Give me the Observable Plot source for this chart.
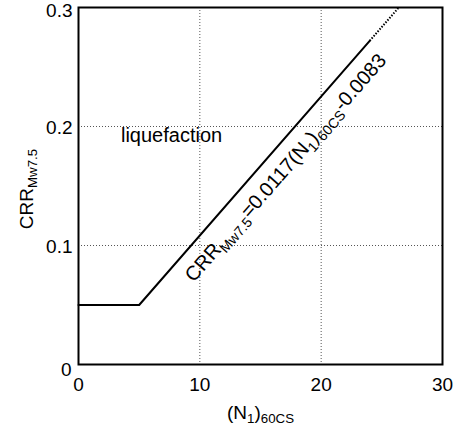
<!DOCTYPE html>
<html><head><meta charset="utf-8">
<script src="https://cdn.jsdelivr.net/npm/d3@7"></script>
<script src="https://cdn.jsdelivr.net/npm/@observablehq/plot@0.6"></script>
<style>
body{margin:0;background:#fff}
svg{font-family:"Liberation Sans",Arial,Helvetica,sans-serif}
</style>
</head><body><div id="chart"></div>
<script>
// ---- data ----
const xTicks = [0, 10, 20, 30];
const yTicks = [0.1, 0.2];
const yTopTick = [0.3];
const yZeroTick = [0];
const gridXValues = [10, 20];
const gridYValues = [0.1, 0.2];
const solidN = [0, 5, 24];
const solidCRR = [0.05, 0.05, 0.272];
const dottedN = [24, 26.4];
const dottedCRR = [0.272, 0.3];
const slope = 0.0117, intercept = -0.0083;
const eqN = [15.8];
const regionLabel = ["liquefaction"];
const regionN = [3.5];
const regionCRR = [0.187];

// ---- layout ----
const W = 457, H = 431, mL = 78, mR = 15, mT = 7, mB = 67;
const xDomain = [0, 30], yDomain = [0, 0.3];
const pxPerX = (W - mL - mR) / (xDomain[1] - xDomain[0]);
const pxPerY = (H - mT - mB) / (yDomain[1] - yDomain[0]);
const angle = -Math.atan(slope * pxPerY / pxPerX) * 180 / Math.PI;
const FONT = '"Liberation Sans",Arial,Helvetica,sans-serif';

const solid = solidN.map((n, i) => ({n, c: solidCRR[i]}));
const dotted = dottedN.map((n, i) => ({n, c: dottedCRR[i]}));

const plot = Plot.plot({
  width: W, height: H,
  marginLeft: mL, marginRight: mR, marginTop: mT, marginBottom: mB,
  style: {fontFamily: FONT, fontSize: "19px", background: "white", color: "black"},
  x: {domain: xDomain, label: null},
  y: {domain: yDomain, label: null},
  marks: [
    Plot.gridX(gridXValues, {stroke: "#555", strokeOpacity: 1, strokeWidth: 1, strokeDasharray: "1,2"}),
    Plot.gridY(gridYValues, {stroke: "#555", strokeOpacity: 1, strokeWidth: 1, strokeDasharray: "1,2"}),
    Plot.line(solid, {x: "n", y: "c", stroke: "black", strokeWidth: 2}),
    Plot.line(dotted, {x: "n", y: "c", stroke: "black", strokeWidth: 2, strokeDasharray: "1.5,1.5", strokeLinecap: "butt"}),
    Plot.frame({stroke: "black", strokeWidth: 2}),
    Plot.axisX({ticks: xTicks, tickSize: 0, tickPadding: 13, fontSize: 19, label: null}),
    Plot.axisY({ticks: yTicks, tickSize: 0, tickPadding: 6, fontSize: 19, label: null, dy: 1, tickFormat: d => d.toFixed(1)}),
    Plot.axisY({ticks: yTopTick, tickSize: 0, tickPadding: 6, fontSize: 19, label: null, dy: 3.5, tickFormat: d => d.toFixed(1)}),
    Plot.axisY({ticks: yZeroTick, tickSize: 0, tickPadding: 7, fontSize: 19, label: null, dy: 5, tickFormat: d => String(d)}),
    Plot.text(regionLabel, {x: regionN, y: regionCRR, text: d => d, textAnchor: "start", lineAnchor: "bottom", fontSize: 20}),
    Plot.text(["eq"], {x: eqN, y: eqN.map(n => slope * n + intercept), text: d => d, rotate: angle,
      dx: 15.5, dy: 13.5, textAnchor: "middle", lineAnchor: "middle", fontSize: 20, className: "eqlab"}),
    Plot.text(["y"], {frameAnchor: "left", text: d => d, rotate: -90, dx: -46, dy: 3,
      textAnchor: "middle", lineAnchor: "bottom", fontSize: 19, className: "ylab"}),
    Plot.text(["x"], {frameAnchor: "bottom", text: d => d, dy: 54,
      textAnchor: "middle", lineAnchor: "bottom", fontSize: 19, className: "xlab"})
  ]
});

function rich(sel, parts, fs, subScale = 0.7, shift = 0.25) {
  sel.each(function () {
    const t = d3.select(this);
    t.text(null);
    let down = false;
    for (const [s, sub] of parts) {
      const ts = t.append("tspan").text(s);
      if (sub) {
        ts.attr("font-size", fs * subScale);
        if (!down) { ts.attr("dy", fs * shift); down = true; }
      } else if (down) {
        ts.attr("dy", -fs * shift); down = false;
      }
    }
  });
}
const root = d3.select(plot);
rich(root.selectAll(".eqlab text"), [["CRR"], ["Mw7.5", 1], ["=0.0117(N"], ["1", 1], [")"], ["60CS", 1], ["-0.0083"]], 20);
rich(root.selectAll(".ylab text"), [["CRR"], ["Mw7.5", 1]], 19);
rich(root.selectAll(".xlab text"), [["(N"], ["1", 1], [")"], ["60CS", 1]], 19);

document.getElementById("chart").appendChild(plot);
</script>
</body></html>
